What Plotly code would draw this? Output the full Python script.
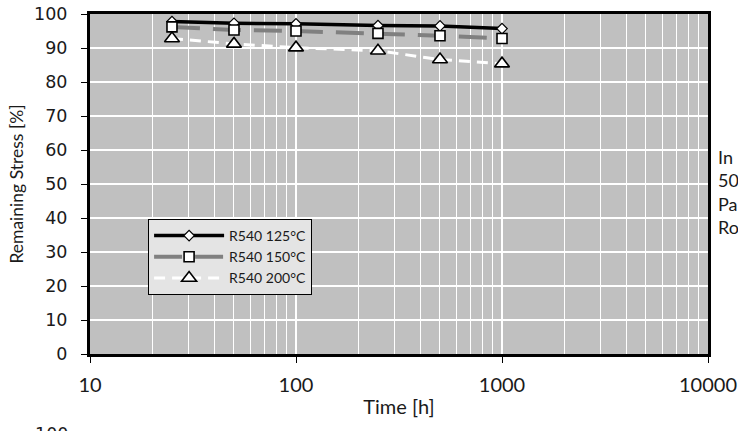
import plotly.graph_objects as go

time_h = [25, 50, 100, 250, 500, 1000]
r540_125 = [97.8, 97.3, 97.1, 96.6, 96.5, 95.7]
r540_150 = [96.2, 95.3, 95.0, 94.3, 93.6, 92.8]
r540_200 = [92.8, 91.2, 90.1, 89.2, 86.6, 85.4]
series_names = ["R540 125°C", "R540 150°C", "R540 200°C"]
y_ticks = [0, 10, 20, 30, 40, 50, 60, 70, 80, 90, 100]
x_ticks = [10, 100, 1000, 10000]
minor_grid = [m * d for d in (10, 100, 1000) for m in range(2, 10)]

CAL = "Lato, Carlito, Calibri, sans-serif"
ARI = "DejaVu Sans, Liberation Sans, Arial, sans-serif"
TXT = "#1a1a1a"

fig = go.Figure()
fig.add_trace(go.Scatter(
    x=time_h, y=r540_125, name=series_names[0], mode="lines+markers",
    line=dict(color="black", width=3.5),
    marker=dict(symbol="diamond", size=8, color="white", line=dict(color="black", width=1.2)),
))
fig.add_trace(go.Scatter(
    x=time_h, y=r540_150, name=series_names[1], mode="lines+markers",
    line=dict(color="#808080", width=4, dash="28px,13px"),
    marker=dict(symbol="square", size=10, color="white", line=dict(color="black", width=1.6)),
))
fig.add_trace(go.Scatter(
    x=time_h, y=r540_200, name=series_names[2], mode="lines+markers",
    line=dict(color="white", width=3, dash="11px,7px"),
    marker=dict(symbol="triangle-up", size=13, color="white", line=dict(color="black", width=1.6)),
))

# minor vertical gridlines via an overlay axis
fig.add_trace(go.Scatter(x=[10, 10000], y=[None, None], xaxis="x2", showlegend=False, hoverinfo="skip"))

fig.update_layout(
    width=738, height=431,
    margin=dict(l=90, r=30, t=14, b=77, autoexpand=False),
    paper_bgcolor="white", plot_bgcolor="#c0c0c0",
    showlegend=True,
    legend=dict(
        x=0.094, y=0.397, xanchor="left", yanchor="top",
        bgcolor="#e4e4e4", bordercolor="black", borderwidth=1,
        font=dict(family=CAL, size=14, color=TXT),
        itemwidth=70, tracegroupgap=0,
    ),
    xaxis=dict(
        type="log", range=[1, 4], tickvals=x_ticks, ticktext=[str(v) for v in x_ticks],
        showgrid=True, gridcolor="white", gridwidth=2,
        showline=True, linecolor="black", linewidth=3, mirror=True,
        ticks="outside", ticklen=6, tickcolor="black", tickwidth=1,
        ticklabelstandoff=5, automargin=False,
        tickfont=dict(family=CAL, size=20, color=TXT),
        title=dict(text="Time [h]", font=dict(family=CAL, size=20, color=TXT), standoff=5),
        zeroline=False, layer="above traces",
    ),
    xaxis2=dict(
        type="log", range=[1, 4], overlaying="x", tickvals=minor_grid, automargin=False,
        showticklabels=False, ticks="", showgrid=True, gridcolor="white", gridwidth=1.3,
        showline=False, zeroline=False,
    ),
    yaxis=dict(
        range=[0, 100], tickvals=y_ticks, automargin=False,
        showgrid=True, gridcolor="white", gridwidth=1.5,
        showline=True, linecolor="black", linewidth=3, mirror=True,
        ticks="outside", ticklen=6, tickcolor="black", tickwidth=1,
        ticklabelstandoff=10,
        tickfont=dict(family=ARI, size=17.5, color=TXT),
        title=dict(text="Remaining Stress [%]", font=dict(family=CAL, size=17.5, color=TXT), standoff=6),
        zeroline=False, layer="above traces",
    ),
    annotations=[
        dict(xref="paper", yref="paper", x=(716 - 90) / 618, y=(354 - 192) / 340,
             xanchor="left", yanchor="middle", showarrow=False, align="left",
             text="In<br>50<br>Pa<br>Ro", font=dict(family=CAL, size=18, color=TXT)),
        dict(xref="paper", yref="paper", x=(51 - 90) / 618, y=(354 - 422) / 340,
             xanchor="center", yanchor="top", showarrow=False,
             text="100", font=dict(family=ARI, size=17.5, color=TXT)),
    ],
)

fig.write_html("out.html")
